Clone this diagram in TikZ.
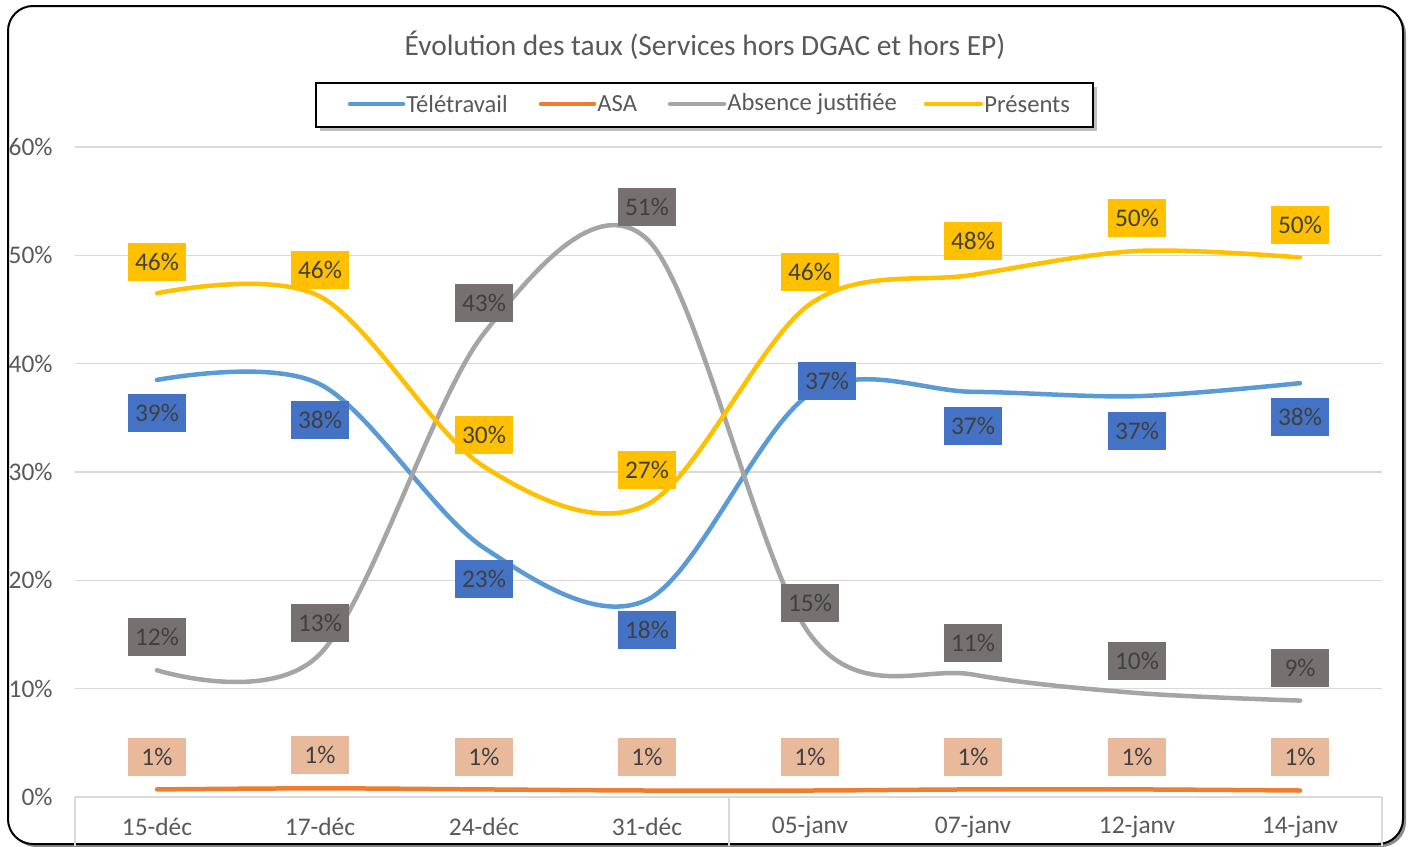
\documentclass[tikz,border=0pt]{standalone}
\usepackage{fontspec}
\setmainfont{Carlito}
\definecolor{txt}{HTML}{595959}
\definecolor{labtxt}{HTML}{404040}
\definecolor{grid}{HTML}{D9D9D9}
\definecolor{cTele}{HTML}{5B9BD5}
\definecolor{cAsa}{HTML}{ED7D31}
\definecolor{cAbs}{HTML}{A5A5A5}
\definecolor{cPres}{HTML}{FFC000}
\definecolor{fTele}{HTML}{4472C4}
\definecolor{fAsa}{HTML}{E8B99B}
\definecolor{fAbs}{HTML}{767171}
\definecolor{fPres}{HTML}{FFC000}
\begin{document}
\begin{tikzpicture}[x=0.5pt,y=-0.5pt,
  serie/.style={line width=2.25pt,line cap=round,line join=round},
  lab/.style={minimum width=29pt,minimum height=19pt,inner sep=0pt,text=labtxt,font=\fontsize{12.7}{14}\selectfont},
  ylab/.style={anchor=east,text=txt,inner sep=0pt,font=\fontsize{12.7}{14}\selectfont},
  xlab/.style={text=txt,inner sep=0pt,font=\fontsize{12.7}{14}\selectfont},
  leg/.style={anchor=west,text=txt,inner sep=0pt,font=\fontsize{12.3}{14}\selectfont},
  gridline/.style={draw=grid,line width=0.75pt}]
\useasboundingbox (0,0) rectangle (1412,846);
% frame
\fill[black!45,rounded corners=12.5pt] (11,9) rectangle (1406,847);
\fill[white,draw=black,line width=1pt,rounded corners=12.5pt] (8,6) rectangle (1403,844);
% title
\node[text=txt,font=\fontsize{14.7}{17}\selectfont] (title) at (705,45) {Évolution des taux (Services hors DGAC et hors EP)};
% legend
\fill[black!25] (320,87) rectangle (1097,131);
\draw[fill=white,line width=0.9pt] (316,83) rectangle (1093,127);
\coordinate (l1a) at (350,104); \coordinate (l1b) at (403,104);
\coordinate (l2a) at (541,104); \coordinate (l2b) at (594,104);
\coordinate (l3a) at (670,104); \coordinate (l3b) at (724,104);
\coordinate (l4a) at (926,104); \coordinate (l4b) at (981,104);
\draw[serie,cTele] (l1a) -- (l1b);
\draw[serie,cAsa] (l2a) -- (l2b);
\draw[serie,cAbs] (l3a) -- (l3b);
\draw[serie,cPres] (l4a) -- (l4b);
\node[leg] (t1) at (406,104) {Télétravail};
\node[leg] (t2) at (597,104) {ASA};
\node[leg] (t3) at (727,104) {Absence justifiée};
\node[leg] (t4) at (984,104) {Présents};
% grid
\foreach \v/\t in {0/0\%,1/10\%,2/20\%,3/30\%,4/40\%,5/50\%,6/60\%}{
  \draw[gridline] (75,{797-108.33*\v}) -- (1382,{797-108.33*\v});
  \node[ylab] at (53,{797-108.33*\v}) {\t};
}
\draw[gridline] (75,797) -- (75,846);
\draw[gridline] (729,797) -- (729,846);
\draw[gridline] (1382,797) -- (1382,846);
\foreach \x/\t in {157/15-déc,320/17-déc,484/24-déc,647/31-déc,810/05-janv,973/07-janv,1137/12-janv,1300/14-janv}{
  \node[xlab] at (\x,827) {\t};
}
% series
\begin{scope}[shift={(0,797)},y=5.41667pt]
\draw[serie,cAsa] plot[smooth,tension=0.55] coordinates {(157,0.7) (320,0.8) (484,0.7) (647,0.6) (810,0.6) (973,0.7) (1137,0.7) (1300,0.6)};
\draw[serie,cTele] plot[smooth,tension=0.55] coordinates {(157,38.5) (320,38.1) (484,23) (647,18.2) (810,37.2) (973,37.4) (1137,37) (1300,38.2)};
\draw[serie,cAbs] plot[smooth,tension=0.55] coordinates {(157,11.7) (320,13.2) (484,42.8) (647,51.5) (810,15) (973,11.3) (1137,9.6) (1300,8.9)};
\draw[serie,cPres] plot[smooth,tension=0.55] coordinates {(157,46.5) (320,46.2) (484,30.5) (647,27) (810,45.5) (973,48.2) (1137,50.4) (1300,49.8)};
\end{scope}
% labels
\node[lab,fill=fPres] (p1) at (157,262) {46\%};
\node[lab,fill=fPres] (p2) at (320,270) {46\%};
\node[lab,fill=fPres] (p3) at (484,435) {30\%};
\node[lab,fill=fPres] (p4) at (647,470) {27\%};
\node[lab,fill=fPres] (p5) at (810,272) {46\%};
\node[lab,fill=fPres] (p6) at (973,241) {48\%};
\node[lab,fill=fPres] (p7) at (1137,218) {50\%};
\node[lab,fill=fPres] (p8) at (1300,225) {50\%};
\node[lab,fill=fTele] (b1) at (157,413) {39\%};
\node[lab,fill=fTele] (b2) at (320,420) {38\%};
\node[lab,fill=fTele] (b3) at (484,579) {23\%};
\node[lab,fill=fTele] (b4) at (647,630) {18\%};
\node[lab,fill=fTele] (b5) at (827,381) {37\%};
\node[lab,fill=fTele] (b6) at (973,426) {37\%};
\node[lab,fill=fTele] (b7) at (1137,431) {37\%};
\node[lab,fill=fTele] (b8) at (1300,417) {38\%};
\node[lab,fill=fAbs] (g1) at (157,637) {12\%};
\node[lab,fill=fAbs] (g2) at (320,623) {13\%};
\node[lab,fill=fAbs] (g3) at (484,303) {43\%};
\node[lab,fill=fAbs] (g4) at (647,207) {51\%};
\node[lab,fill=fAbs] (g5) at (810,603) {15\%};
\node[lab,fill=fAbs] (g6) at (973,643) {11\%};
\node[lab,fill=fAbs] (g7) at (1137,661) {10\%};
\node[lab,fill=fAbs] (g8) at (1300,668) {9\%};
\foreach \x/\y [count=\i] in {157/757,320/755,484/757,647/757,810/757,973/757,1137/757,1300/757}{
  \node[lab,fill=fAsa] (o\i) at (\x,\y) {1\%};
}
\end{tikzpicture}
\end{document}
